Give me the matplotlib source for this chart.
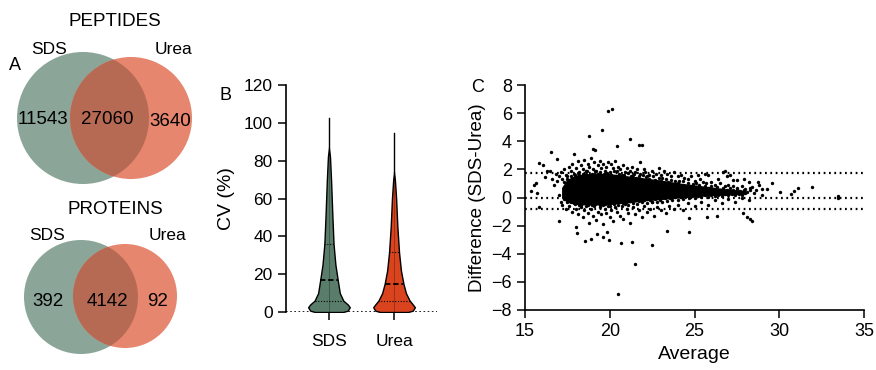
import matplotlib.pyplot as plt
import numpy as np
from matplotlib.patches import Circle

plt.rcParams['font.family'] = ['Liberation Sans', 'DejaVu Sans']

# ---- A: venn counts
pep_counts = [11543, 27060, 3640]
prot_counts = [392, 4142, 92]
venn_sets = ['SDS', 'Urea']

# ---- B: violin profiles (CV level, relative density)
sds_cv = [0, 0.7, 2.5, 4, 6, 10, 17, 25, 36, 52, 70, 82, 87]
sds_dens = [0.67, 0.90, 1.0, 0.90, 0.69, 0.52, 0.42, 0.31, 0.22, 0.16, 0.10, 0.05, 0.0]
urea_cv = [0, 0.7, 2.5, 4, 6, 10, 15, 22, 31.5, 45, 60, 70, 74]
urea_dens = [0.67, 0.90, 1.0, 0.90, 0.75, 0.57, 0.45, 0.33, 0.24, 0.16, 0.10, 0.04, 0.0]
sds_q = [6, 17, 36]
urea_q = [6, 15, 31.5]
sds_max = 102.4
urea_max = 94.4

# ---- C: Bland-Altman
# dense core of the cloud (solid black in the picture)
core_x = [17.2, 17.5, 18, 19, 20, 21, 22, 23, 24, 25, 26, 27, 28]
core_hi = [0.7, 1.25, 1.55, 1.7, 1.65, 1.5, 1.35, 1.2, 1.0, 0.85, 0.7, 0.55, 0.45]
core_lo = [0.0, -0.3, -0.45, -0.5, -0.45, -0.35, -0.2, -0.1, 0.0, 0.1, 0.18, 0.22, 0.28]

pts = [
    # outliers
    (19.88, 6.17), (20.15, 6.27), (18.79, 4.40), (19.56, 4.78), (21.19, 4.16),
    (20.41, 3.66), (21.73, 3.73), (21.88, 3.73), (16.53, 3.21), (17.87, 3.07),
    (19.03, 3.47), (19.11, 3.38), (21.78, 2.50), (15.85, 2.43), (16.91, 2.71),
    (17.0, -1.65), (18.05, -2.50), (17.99, -2.12), (18.54, -3.07), (18.89, -2.95),
    (19.25, -2.6), (19.58, -2.79), (19.82, -2.43), (19.94, -3.02), (20.68, -3.26),
    (21.31, -3.19), (21.47, -4.73), (20.50, -6.86), (22.49, -3.40), (23.36, -2.40),
    (24.69, -2.45), (24.69, -1.48), (25.72, -1.36), (26.31, -1.32), (28.08, -1.36),
    (28.27, -1.53), (28.42, -1.65), (27.86, -1.10), (29.55, 1.01), (30.04, 0.41),
    (30.69, 0.25), (31.09, 0.65), (30.89, 0.46), (31.91, 0.72), (33.45, 0.11),
    (33.49, -0.06), (28.73, 1.08), (28.41, 0.72), (28.96, 0.58), (27.29, 1.24),
    (27.52, 1.24), (26.70, 1.81), (26.80, 1.88), (25.82, 1.60), (15.69, 0.30),
    (15.34, 0.49), (15.55, 0.89), (15.65, 1.05), (15.85, -0.70), (16.18, 1.48),
    (16.28, 1.89), (16.08, 2.31),
    # upper fringe
    (17.1, 1.8), (17.3, 2.0), (17.4, 1.6), (17.6, 2.2), (17.7, 1.9), (17.8, 2.4),
    (17.9, 1.7), (18.0, 2.1), (18.1, 2.6), (18.2, 1.8), (18.3, 2.3), (18.4, 2.0),
    (18.5, 2.7), (18.6, 1.9), (18.7, 2.4), (18.8, 2.2), (18.9, 2.8), (19.0, 2.0),
    (19.1, 2.5), (19.2, 1.9), (19.3, 2.3), (19.4, 2.6), (19.5, 2.1), (19.6, 2.4),
    (19.7, 1.9), (19.8, 2.2), (19.9, 2.5), (20.0, 1.8), (20.1, 2.4), (20.2, 2.1),
    (20.3, 2.6), (20.4, 1.9), (20.5, 2.2), (20.6, 2.0), (20.8, 2.3), (20.9, 1.8),
    (21.0, 2.1), (21.2, 1.9), (21.3, 2.2), (21.5, 1.8), (21.6, 2.0), (21.8, 1.7),
    (22.0, 2.0), (22.1, 1.8), (22.3, 1.6), (22.5, 1.9), (22.7, 1.7), (22.9, 2.1),
    (23.0, 1.6), (23.2, 1.9), (23.4, 1.7), (23.6, 1.5), (23.8, 1.8), (24.0, 1.5),
    (24.2, 1.6), (24.4, 1.4), (24.6, 1.3), (24.8, 1.5), (25.0, 1.2), (25.3, 1.3),
    (25.5, 1.1), (25.7, 1.0), (26.0, 1.1), (26.2, 0.9), (26.5, 1.0), (26.8, 0.8),
    (27.0, 0.9), (27.3, 0.8), (27.5, 0.7), (27.8, 0.8), (28.0, 0.6), (28.3, 0.7),
    (28.6, 0.5), (16.8, 1.7), (16.9, 1.2), (17.0, 1.5), (16.7, 0.9), (16.5, 1.9),
    (16.6, 1.3), (17.2, 1.3), (17.5, 1.5), (18.2, 1.6), (18.6, 1.7), (19.3, 1.7),
    (20.7, 1.6), (21.4, 1.6), (22.2, 1.5), (23.1, 1.4), (24.1, 1.2), (25.1, 1.0),
    # upper near-edge
    (17.3, 1.1), (17.45, 1.35), (17.55, 0.95), (17.7, 1.5), (17.85, 1.25), (17.95, 1.6),
    (18.05, 1.35), (18.15, 1.75), (18.25, 1.45), (18.35, 1.3), (18.45, 1.65), (18.55, 1.4),
    (18.65, 1.85), (18.75, 1.5), (18.85, 1.35), (18.95, 1.7), (19.05, 1.45), (19.15, 1.9),
    (19.25, 1.55), (19.35, 1.4), (19.45, 1.8), (19.55, 1.5), (19.65, 1.65), (19.75, 1.35),
    (19.85, 1.75), (19.95, 1.5), (20.05, 1.6), (20.15, 1.4), (20.25, 1.85), (20.35, 1.5),
    (20.45, 1.35), (20.55, 1.7), (20.65, 1.45), (20.75, 1.3), (20.85, 1.6), (20.95, 1.4),
    (21.05, 1.75), (21.15, 1.35), (21.25, 1.5), (21.35, 1.3), (21.45, 1.65), (21.55, 1.4),
    (21.65, 1.25), (21.75, 1.5), (21.85, 1.3), (21.95, 1.6), (22.05, 1.2), (22.15, 1.45),
    (22.3, 1.3), (22.4, 1.15), (22.55, 1.5), (22.65, 1.25), (22.8, 1.1), (22.9, 1.4),
    (23.05, 1.2), (23.2, 1.05), (23.3, 1.35), (23.45, 1.1), (23.6, 1.25), (23.7, 0.95),
    (23.85, 1.2), (24.0, 1.0), (24.15, 0.9), (24.3, 1.15), (24.45, 0.85), (24.6, 1.0),
    (24.75, 0.8), (24.9, 0.95), (25.1, 0.75), (25.25, 0.9), (25.4, 0.7), (25.6, 0.85),
    (25.8, 0.65), (25.95, 0.8), (26.1, 0.6), (26.3, 0.75), (26.5, 0.55), (26.7, 0.7),
    (26.9, 0.5), (27.1, 0.65), (27.3, 0.5), (27.5, 0.6), (27.7, 0.45), (27.9, 0.55),
    (28.1, 0.4), (28.25, 0.5),
    # lower near-edge
    (17.3, -0.1), (17.45, -0.3), (17.6, 0.0), (17.7, -0.35), (17.85, -0.2), (17.95, -0.45),
    (18.1, -0.3), (18.2, -0.55), (18.35, -0.25), (18.45, -0.4), (18.6, -0.3), (18.7, -0.5),
    (18.8, -0.35), (18.95, -0.55), (19.05, -0.3), (19.15, -0.45), (19.3, -0.35), (19.45, -0.55),
    (19.55, -0.3), (19.7, -0.45), (19.85, -0.35), (20.0, -0.6), (20.1, -0.3), (20.25, -0.45),
    (20.4, -0.35), (20.5, -0.5), (20.65, -0.25), (20.8, -0.4), (20.95, -0.3), (21.1, -0.5),
    (21.2, -0.25), (21.35, -0.4), (21.5, -0.2), (21.6, -0.45), (21.75, -0.25), (21.9, -0.35),
    (22.05, -0.15), (22.2, -0.4), (22.35, -0.2), (22.5, -0.3), (22.65, -0.1), (22.8, -0.3),
    (22.95, -0.15), (23.1, -0.35), (23.25, -0.05), (23.4, -0.25), (23.55, 0.0), (23.7, -0.2),
    (23.85, 0.05), (24.0, -0.15), (24.2, 0.05), (24.35, -0.1), (24.5, 0.1), (24.7, -0.05),
    (24.85, 0.1), (25.05, 0.0), (25.2, 0.12), (25.4, 0.05), (25.6, 0.15), (25.8, 0.05),
    (26.0, 0.18), (26.2, 0.1), (26.4, 0.2), (26.6, 0.12), (26.8, 0.22), (27.0, 0.15),
    (27.2, 0.25), (27.4, 0.18), (27.6, 0.27), (27.8, 0.2), (28.0, 0.3),
    # lower fringe
    (17.2, -0.5), (17.4, -0.8), (17.6, -0.6), (17.8, -1.0), (17.9, -0.4), (18.0, -0.8),
    (18.1, -1.2), (18.3, -0.7), (18.4, -1.4), (18.5, -0.9), (18.6, -0.6), (18.7, -1.1),
    (18.8, -1.8), (18.9, -0.8), (19.0, -1.3), (19.1, -0.6), (19.2, -1.6), (19.3, -1.0),
    (19.4, -0.7), (19.5, -1.2), (19.6, -1.9), (19.7, -0.8), (19.8, -1.1), (19.9, -0.6),
    (20.0, -1.4), (20.1, -0.9), (20.2, -1.7), (20.3, -0.7), (20.4, -1.0), (20.6, -1.3),
    (20.7, -0.6), (20.8, -1.5), (21.0, -0.8), (21.1, -1.1), (21.2, -1.8), (21.4, -0.7),
    (21.5, -1.2), (21.7, -0.9), (21.9, -1.4), (22.0, -0.6), (22.2, -1.0), (22.4, -0.8),
    (22.6, -1.3), (22.8, -0.7), (23.0, -0.9), (23.3, -1.1), (23.5, -0.6), (23.8, -0.8),
    (24.0, -0.5), (24.3, -0.9), (24.6, -0.4), (25.0, -0.6), (25.4, -0.3), (25.8, -0.5),
    (26.2, -0.2), (26.6, -0.4), (27.0, -0.1), (27.4, -0.3), (27.8, 0.0), (28.2, -0.2),
    (17.0, 0.2), (17.1, -0.3), (18.3, -0.5), (19.6, -0.5), (20.9, -0.45), (22.5, -0.35),
    # right tail
    (28.5, 0.3), (28.8, 0.9), (29.0, 0.2), (29.3, 0.6), (28.2, 1.1), (27.9, 1.3),
    (26.9, 1.5), (27.1, 1.6), (26.4, 1.3), (25.6, 1.7), (25.2, 1.6),
]
loa_lines = [1.75, 0.0, -0.83]

fig = plt.figure(figsize=(8.76, 3.70), dpi=100)

# ---------------- A
axA = fig.add_axes([0, 0, 230 / 876, 1])
axA.set_xlim(0, 230)
axA.set_ylim(370, 0)
axA.axis('off')
sds_col = '#8ba699'
urea_col = '#e6866e'
ovl_col = '#b76a53'


def venn(ax, c1, r1, c2, r2, ty, title):
    a = Circle(c1, r1, color=sds_col, lw=0)
    b = Circle(c2, r2, color=urea_col, lw=0)
    ax.add_patch(a)
    ax.add_patch(b)
    o = Circle(c2, r2, color=ovl_col, lw=0)
    ax.add_patch(o)
    o.set_clip_path(Circle(c1, r1, transform=ax.transData))
    ax.text(115, ty, title, ha='center', va='center', fontsize=13.5)
    ax.text(c1[0] - 34, ty + 27, venn_sets[0], ha='center', va='center', fontsize=12.5)
    ax.text(c2[0] + 42, ty + 27, venn_sets[1], ha='center', va='center', fontsize=12.5)


venn(axA, (83, 118), 66, (131, 118), 61, 22, 'PEPTIDES')
axA.text(43, 119, str(pep_counts[0]), ha='center', va='center', fontsize=13.5)
axA.text(107, 119, str(pep_counts[1]), ha='center', va='center', fontsize=13.5)
axA.text(170, 121, str(pep_counts[2]), ha='center', va='center', fontsize=13.5)
axA.text(15, 66, 'A', ha='center', va='center', fontsize=13)

venn(axA, (81, 297), 57, (125, 296), 52, 209, 'PROTEINS')
axA.text(48, 301, str(prot_counts[0]), ha='center', va='center', fontsize=13.5)
axA.text(107, 301, str(prot_counts[1]), ha='center', va='center', fontsize=13.5)
axA.text(158, 301, str(prot_counts[2]), ha='center', va='center', fontsize=13.5)

# ---------------- B
axB = fig.add_axes([286 / 876, 1 - 312 / 370, 151 / 876, 227 / 370])
half = 0.32
for i, (cv, d, q, mx, col) in enumerate([
        (sds_cv, sds_dens, sds_q, sds_max, '#5a7d6b'),
        (urea_cv, urea_dens, urea_q, urea_max, '#d9441f')]):
    cv = np.array(cv)
    w = np.array(d) * half
    axB.fill_betweenx(cv, i - w, i + w, facecolor=col, edgecolor='black', lw=1.0, zorder=2)
    axB.plot([i, i], [cv[-1], mx], color='black', lw=1.0, zorder=3)
    axB.plot([i, i], [0, cv[-1]], color='black', lw=0.4, alpha=0.5, zorder=3)
    for k, lvl in enumerate(q):
        ww = np.interp(lvl, cv, w)
        axB.plot([i - ww, i + ww], [lvl, lvl], color='black',
                 lw=1.3 if k == 1 else 0.8,
                 ls=(0, (3, 1.5)) if k == 1 else (0, (1, 1.5)), zorder=3)
axB.axhline(0, color='black', lw=1.2, ls=(0, (1, 1.5)), zorder=1)
axB.set_xlim(-0.66, 1.66)
axB.set_ylim(0, 120)
axB.set_yticks(np.arange(0, 121, 20))
axB.set_xticks([0, 1])
axB.set_xticklabels(venn_sets)
for s in ['top', 'right', 'bottom']:
    axB.spines[s].set_visible(False)
axB.spines['left'].set_linewidth(1.2)
axB.tick_params(axis='both', labelsize=12.5, length=6, width=1.1, direction='out')
axB.tick_params(axis='x', pad=10)
axB.set_ylabel('CV (%)', fontsize=14, labelpad=6)
fig.text(225 / 876, 1 - 95 / 370, 'B', ha='center', va='center', fontsize=13)

# ---------------- C
axC = fig.add_axes([525 / 876, 1 - 310 / 370, 339 / 876, 225 / 370])
axC.fill_between(core_x, core_lo, core_hi, color='black', lw=1.0, zorder=2)
px = [p[0] for p in pts]
py = [p[1] for p in pts]
axC.scatter(px, py, s=6, color='black', lw=0, zorder=3)
for v in loa_lines:
    axC.axhline(v, color='black', lw=1.6, ls=(0, (0.8, 1.6)), zorder=4)
axC.set_xlim(15, 35)
axC.set_ylim(-8, 8)
axC.set_xticks(np.arange(15, 36, 5))
axC.set_yticks(np.arange(-8, 9, 2))
for s in ['top', 'right']:
    axC.spines[s].set_visible(False)
for s in ['left', 'bottom']:
    axC.spines[s].set_linewidth(1.2)
axC.tick_params(axis='both', labelsize=13, length=6, width=1.1, direction='out')
axC.set_xlabel('Average', fontsize=14, labelpad=4)
axC.set_ylabel('Difference (SDS-Urea)', fontsize=13.5, labelpad=4)
fig.text(478 / 876, 1 - 88 / 370, 'C', ha='center', va='center', fontsize=13)

fig.savefig('out.png', dpi=100)
